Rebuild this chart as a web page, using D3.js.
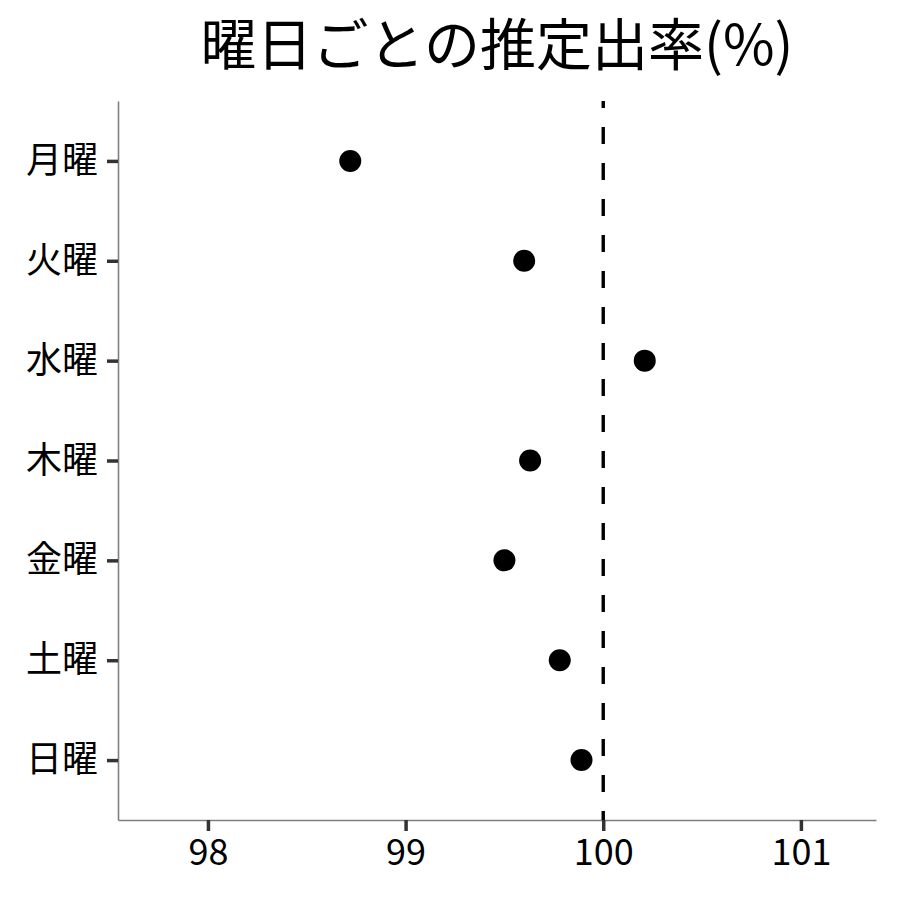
<!DOCTYPE html>
<html>
<head>
<meta charset="utf-8">
<script src="https://cdn.jsdelivr.net/npm/d3@7"></script>
<style>
	body { margin: 0; background: #fff; }
	text { font-family: "Noto Sans CJK JP", sans-serif; }
</style>
</head>
<body>
<svg id="chart"></svg>
<script>
let days = ["月曜", "火曜", "水曜", "木曜", "金曜", "土曜", "日曜"];
let rates = [98.72, 99.6, 100.21, 99.63, 99.5, 99.78, 99.89];
let xTicks = [98, 99, 100, 101];
let refValue = 100;
let title = "曜日ごとの推定出率(%)";

function makeChart() {
	let w = 900;
	let h = 900;

	let marginT = 101;
	let marginL = 118;
	let marginR = 24;
	let marginB = 80;

	let chart = d3.select('#chart')
		.attr('width', w)
		.attr('height', h);

	let xScale = d3.scaleLinear()
		.domain([97.545, 101.38])
		.range([marginL, w - marginR]);

	let yScale = d3.scalePoint()
		.domain(days)
		.range([marginT, h - marginB])
		.padding(0.6);

	let xAxis = d3.axisBottom(xScale).tickValues(xTicks).tickSizeInner(11).tickSizeOuter(0).tickPadding(8).tickFormat(d3.format('d'));
	let yAxis = d3.axisLeft(yScale).tickSizeInner(11).tickSizeOuter(0).tickPadding(9);

	// AXES
	let gx = chart.append('g')
		.attr('transform', `translate(0, ${h - marginB})`)
		.call(xAxis);
	let gy = chart.append('g')
		.attr('transform', `translate(${marginL}, 0)`)
		.call(yAxis);

	[gx, gy].forEach(g => {
		g.select('.domain').attr('stroke', '#7f7f7f').attr('stroke-width', 1.6);
		g.selectAll('.tick line').attr('stroke', '#333333').attr('stroke-width', 3.5);
		g.selectAll('.tick text').attr('fill', '#000').style('font-size', '36px');
	});

	// reference line
	chart.append('line')
		.attr('x1', xScale(refValue))
		.attr('x2', xScale(refValue))
		.attr('y1', marginT)
		.attr('y2', h - marginB)
		.attr('stroke', '#000')
		.attr('stroke-width', 3.4)
		.attr('stroke-dasharray', '17,19')
		.attr('stroke-dashoffset', 10);

	// points
	chart.append('g')
		.selectAll('circle')
		.data(days)
		.enter()
		.append('circle')
		.attr('cx', (d, i) => xScale(rates[i]))
		.attr('cy', d => yScale(d))
		.attr('r', 11)
		.attr('fill', '#000');

	// TITLE
	chart.append('text')
		.attr('x', (marginL + w - marginR) / 2)
		.attr('y', 65)
		.style('text-anchor', 'middle')
		.style('font-size', '56px')
		.text(title);
}

window.onload = makeChart;
</script>
</body>
</html>
